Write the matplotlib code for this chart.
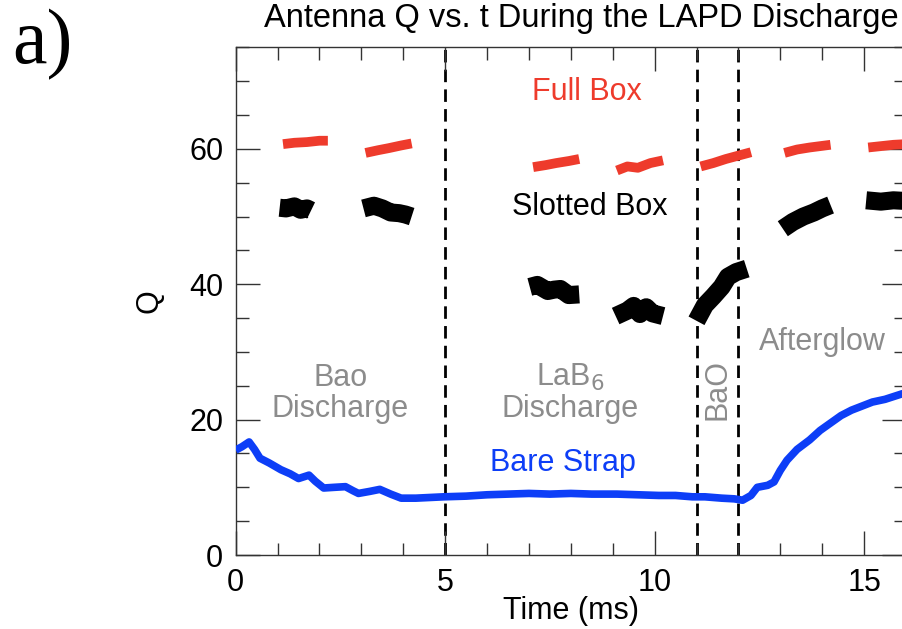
import matplotlib
matplotlib.use("Agg")
import matplotlib.pyplot as plt
from matplotlib.ticker import MultipleLocator

plt.rcParams['font.family'] = ['Liberation Sans', 'DejaVu Sans']

# Bare strap (blue), continuous trace
blue_t = [0.0, 0.15, 0.32, 0.45, 0.58, 0.8, 1.08, 1.3, 1.5, 1.75, 1.9, 2.1,
          2.35, 2.62, 2.8, 2.93, 3.2, 3.44, 3.7, 3.95, 4.3, 4.97, 5.5, 6.0,
          6.5, 7.0, 7.5, 8.0, 8.5, 9.1, 9.6, 10.1, 10.5, 10.9, 11.2, 11.6,
          11.9, 12.1, 12.3, 12.45, 12.7, 12.85, 13.0, 13.16, 13.4, 13.7,
          13.95, 14.2, 14.45, 14.7, 14.95, 15.2, 15.5, 15.8, 16.0]
blue_q = [15.5, 16.0, 16.7, 15.6, 14.3, 13.6, 12.6, 12.0, 11.3, 11.8, 10.9, 9.9,
          10.0, 10.1, 9.5, 9.1, 9.4, 9.7, 9.0, 8.4, 8.4, 8.6, 8.7, 8.9,
          9.0, 9.1, 9.0, 9.1, 9.0, 9.0, 8.9, 8.8, 8.8, 8.6, 8.6, 8.4,
          8.3, 8.1, 8.8, 10.0, 10.3, 10.8, 12.5, 14.0, 15.6, 17.0,
          18.4, 19.5, 20.6, 21.4, 22.0, 22.6, 23.0, 23.6, 24.0]

# Full box (red), one piece per shot window
red_t = [[1.13, 1.4, 1.7, 2.0, 2.2],
         [3.1, 3.4, 3.65, 3.95, 4.2],
         [7.1, 7.4, 7.65, 7.95, 8.2],
         [9.1, 9.35, 9.6, 9.9, 10.2],
         [11.1, 11.4, 11.7, 12.0, 12.3],
         [13.1, 13.4, 13.7, 13.95, 14.2],
         [15.1, 15.4, 15.7, 16.0]]
red_q = [[60.7, 60.9, 61.0, 61.2, 61.2],
         [59.4, 59.8, 60.1, 60.5, 60.8],
         [57.3, 57.6, 57.9, 58.2, 58.5],
         [56.8, 57.4, 57.2, 57.9, 58.3],
         [57.4, 57.9, 58.5, 59.0, 59.5],
         [59.4, 59.9, 60.2, 60.4, 60.6],
         [60.2, 60.4, 60.6, 60.7]]

# Slotted box (black)
blk_t = [[1.05, 1.2, 1.4, 1.55, 1.7, 1.8],
         [3.05, 3.3, 3.5, 3.7, 3.9, 4.05, 4.2],
         [7.02, 7.2, 7.45, 7.6, 7.75, 7.95, 8.2],
         [9.07, 9.35, 9.5, 9.65, 9.8, 9.95, 10.2],
         [11.0, 11.2, 11.4, 11.6, 11.75, 11.95, 12.2],
         [13.06, 13.3, 13.55, 13.8, 14.0, 14.2],
         [15.05, 15.4, 15.7, 16.0]]
blk_q = [[51.3, 51.2, 51.5, 51.0, 51.2, 50.9],
         [51.2, 51.6, 51.2, 50.6, 50.5, 50.3, 50.0],
         [39.6, 39.9, 39.0, 39.2, 39.3, 38.4, 38.5],
         [35.3, 36.1, 36.8, 35.6, 36.6, 35.7, 35.3],
         [34.6, 36.9, 38.2, 39.6, 41.1, 41.8, 42.3],
         [48.2, 49.2, 50.0, 50.6, 51.2, 51.7],
         [52.4, 52.2, 52.4, 52.3]]

phase_edges = [5, 11, 12]

RED = '#ee3b2c'
BLUE = '#0d3ef7'
GRAY = '#8c8c8c'

fig = plt.figure(figsize=(9.02, 6.29), dpi=100)
ax = fig.add_axes([0.2613, 0.1176, 0.7431, 0.8072])

for x in phase_edges:
    ax.axvline(x, color='black', lw=2, ls=(0, (4.5, 2.6)), zorder=1)

ax.plot(blue_t, blue_q, color=BLUE, lw=5.5, solid_capstyle='butt', zorder=3)
for t, q in zip(red_t, red_q):
    ax.plot(t, q, color=RED, lw=7, solid_capstyle='butt', zorder=3)
for t, q in zip(blk_t, blk_q):
    ax.plot(t, q, color='black', lw=13, solid_capstyle='butt', zorder=3)

ax.set_xlim(0, 16)
ax.set_ylim(0, 75)
ax.set_xticks([0, 5, 10, 15])
ax.set_yticks([0, 20, 40, 60])
ax.xaxis.set_minor_locator(MultipleLocator(1))
ax.yaxis.set_minor_locator(MultipleLocator(5))
ax.tick_params(which='both', direction='in', top=True, right=True,
               color='#333333', width=1)
ax.tick_params(which='major', length=17, labelsize=22, pad=9)
ax.tick_params(which='minor', length=9)
for s in ax.spines.values():
    s.set_color('#333333')
    s.set_linewidth(1)

ax.set_xlabel('Time (ms)', fontsize=22, labelpad=-1)
ax.set_ylabel('Q', fontsize=22, labelpad=18)

txt = dict(fontsize=22, ha='center', va='center')
ax.text(8.39, 68.4, 'Full Box', color=RED, **txt)
ax.text(8.46, 51.4, 'Slotted Box', color='black', **txt)
ax.text(2.5, 23.9, 'Bao\nDischarge', color=GRAY, linespacing=1.05, **txt)
ax.text(7.98, 23.9, 'LaB$_6$\nDischarge', color=GRAY, linespacing=1.05, **txt)
ax.text(11.5, 24.4, 'BaO', color=GRAY, rotation=90, **txt)
ax.text(14.0, 31.5, 'Afterglow', color=GRAY, **txt)
ax.text(7.81, 13.6, 'Bare Strap', color=BLUE, **txt)

fig.text(0.644, 1 - 19 / 629, 'Antenna Q vs. t During the LAPD Discharge',
         fontsize=23.5, ha='center', va='center')
fig.text(0.047, 1 - 45 / 629, 'a)', fontsize=56, ha='center', va='center',
         family=['Liberation Serif', 'DejaVu Serif'])

fig.savefig('out.png', dpi=100)
